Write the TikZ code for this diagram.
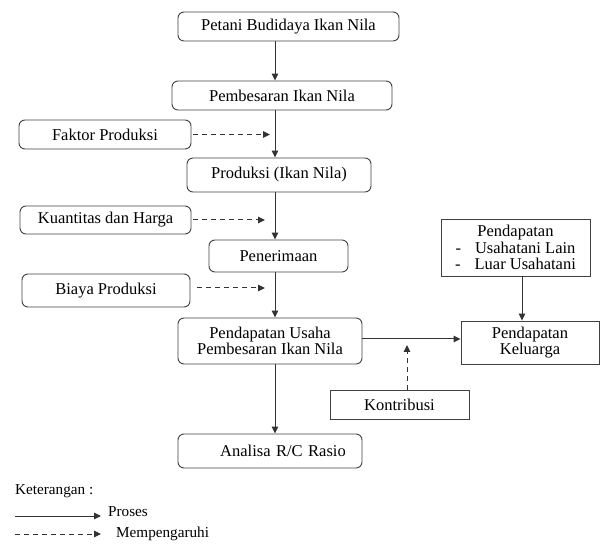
\documentclass[tikz,border=0pt]{standalone}
\usepackage{fontspec}
\setmainfont{Liberation Serif}
\usetikzlibrary{arrows.meta}
\begin{document}
\begin{tikzpicture}[x=1pt,y=-1pt,
  rbox/.style={draw=black!75, line width=0.9pt, rounded corners=6pt, inner sep=0pt,
    font=\fontsize{16.5}{16.5}\selectfont, align=center},
  sbox/.style={draw=black!75, line width=0.9pt, inner sep=0pt,
    font=\fontsize{16.5}{16.5}\selectfont, align=center},
  proc/.style={draw=black!80, line width=1pt, -{Triangle[length=7pt,width=6.5pt]}},
  infl/.style={draw=black!80, line width=1pt, dash pattern=on 5pt off 4pt, -{Triangle[length=7pt,width=6.5pt]}},
  legend/.style={font=\fontsize{15.2}{16}\selectfont, anchor=west, inner sep=0pt}]
\useasboundingbox (0,0) rectangle (600,545);
\coordinate (spine) at (275,0);
\coordinate (dashA) at (270,0);
\coordinate (dashB) at (265,0);
\node[rbox, minimum width=221pt, minimum height=29pt] (b1) at (288.5,26.5) {Petani Budidaya Ikan Nila};
\node[rbox, minimum width=220pt, minimum height=29pt] (b2) at (282,95.5) {Pembesaran Ikan Nila};
\node[rbox, minimum width=172pt, minimum height=29pt] (fak) at (105,134.5) {Faktor Produksi};
\node[rbox, minimum width=184pt, minimum height=34pt] (prod) at (279,175) {Produksi (Ikan Nila)};
\node[rbox, minimum width=171pt, minimum height=28pt] (kua) at (105.5,220) {Kuantitas dan Harga};
\node[rbox, minimum width=139pt, minimum height=32pt] (pen) at (278.5,256) {Penerimaan};
\node[rbox, minimum width=168pt, minimum height=33pt] (bia) at (106,290.5) {Biaya Produksi};
\node[rbox, minimum width=184pt, minimum height=46pt] (pu) at (270,341) {Pendapatan Usaha\\Pembesaran Ikan Nila};
\node[rbox, minimum width=184pt, minimum height=34pt, text width=184pt] (ana) at (270,451) {\hspace*{26pt}Analisa R/C Rasio};
\node[sbox, minimum width=149pt, minimum height=57pt] (pl) at (515.5,247.5) {Pendapatan\\-\hspace{14pt}Usahatani Lain\\-\hspace{14pt}Luar Usahatani};
\node[sbox, minimum width=138pt, minimum height=43pt] (kel) at (530,342.5) {Pendapatan\\Keluarga};
\node[sbox, minimum width=139pt, minimum height=29pt] (kon) at (399.5,404.5) {Kontribusi};
\coordinate (plx) at (522,0);
\coordinate (konx) at (407,0);
\coordinate (kontip) at (407,345);
% process arrows
\draw[proc] (b1.south -| spine) -- (b2.north -| spine);
\draw[proc] (b2.south -| spine) -- (prod.north -| spine);
\draw[proc] (prod.south -| spine) -- (pen.north -| spine);
\draw[proc] (pen.south -| spine) -- (pu.north -| spine);
\draw[proc] (pu.south -| spine) -- (ana.north -| spine);
\draw[proc] (pu.east |- 0,339) -- (kel.west |- 0,339);
\draw[proc] (pl.south -| plx) -- (kel.north -| plx);
% influence arrows
\draw[infl] ([xshift=2pt]fak.east) -- (fak.east -| dashA);
\draw[infl] ([xshift=2pt]kua.east) -- (kua.east -| dashB);
\draw[infl] ([xshift=7pt]bia.east |- 0,288) -- (dashB |- 0,288);
\draw[infl] (kon.north -| konx) -- (kontip);
% legend
\node[legend] (ket) at (15,491) {Keterangan :};
\coordinate (l1a) at (15,516);
\coordinate (l1b) at (101,516);
\draw[proc] (l1a) -- (l1b);
\node[legend] (lp) at (108,512) {Proses};
\coordinate (l2a) at (15,534);
\coordinate (l2b) at (101,534);
\draw[infl] (l2a) -- (l2b);
\node[legend] (lm) at (116,534) {Mempengaruhi};
\end{tikzpicture}
\end{document}
